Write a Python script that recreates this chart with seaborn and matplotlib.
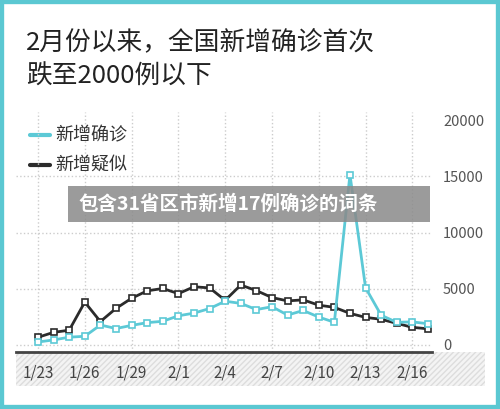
import matplotlib
matplotlib.use("Agg")
import matplotlib.pyplot as plt
import matplotlib.patches as mpatches
import seaborn as sns
import pandas as pd
import numpy as np

sns.set_style("white")
plt.rcParams['font.family'] = ['Noto Sans CJK SC', 'DejaVu Sans']

dates = ['1/23', '1/24', '1/25', '1/26', '1/27', '1/28', '1/29', '1/30', '1/31', '2/1',
         '2/2', '2/3', '2/4', '2/5', '2/6', '2/7', '2/8', '2/9', '2/10', '2/11',
         '2/12', '2/13', '2/14', '2/15', '2/16', '2/17']
confirmed = [259, 444, 688, 769, 1771, 1459, 1737, 1982, 2102, 2590, 2829, 3235, 3887,
             3694, 3143, 3399, 2656, 3062, 2478, 2015, 15152, 5090, 2641, 2009, 2048, 1886]
suspected = [680, 1118, 1309, 3806, 2077, 3248, 4148, 4812, 5019, 4562, 5173, 5072, 3971,
             5328, 4833, 4214, 3916, 4008, 3536, 3342, 2807, 2450, 2277, 1918, 1563, 1432]

df = pd.DataFrame({'i': np.arange(len(dates)), '新增确诊': confirmed, '新增疑似': suspected})
long = df.melt(id_vars='i', var_name='series', value_name='v')

W, H = 500, 409
fig = plt.figure(figsize=(5, 4.09), dpi=100)
fig.patch.set_facecolor('white')
ax = fig.add_axes([16 / W, 1 - 352 / H, (432 - 16) / W, (352 - 112) / H])
ax.set_zorder(2)

pal = {'新增确诊': '#5cc9d6', '新增疑似': '#2b2b2b'}
sns.lineplot(data=long, x='i', y='v', hue='series', hue_order=['新增疑似', '新增确诊'],
             palette=pal, ax=ax, linewidth=2, marker='s', markersize=5,
             markerfacecolor='white', markeredgewidth=1.2, legend=False)
for ln, s in zip(ax.lines, ['新增疑似', '新增确诊']):
    ln.set_markeredgecolor(pal[s])

ax.set_xlim(-1.41, 25.26)
ax.set_ylim(-630, 20720)
ax.set_xticks(range(0, 26, 3))
ax.set_xticklabels(dates[::3], color='#444444', fontsize=11)
ax.set_yticks([0, 5000, 10000, 15000, 20000])
ax.yaxis.tick_right()
ax.tick_params(axis='y', length=0, pad=8, labelcolor='#555555', labelsize=10.5)
ax.tick_params(axis='x', length=0, pad=9)
ax.set_xlabel('')
ax.set_ylabel('')
for s in ['top', 'left', 'right']:
    ax.spines[s].set_visible(False)
ax.spines['bottom'].set_color('#444444')
ax.spines['bottom'].set_linewidth(2)
ax.grid(axis='x', linestyle=':', color='#cccccc', linewidth=1)
for yv in [0, 5000, 10000, 15000]:
    ax.axhline(yv, linestyle=':', color='#cccccc', linewidth=1, zorder=0)
ax.set_facecolor('none')

# hatched band under the axis
band = mpatches.Rectangle((16 / W, 1 - 386 / H), (485 - 16) / W, 34 / H,
                          transform=fig.transFigure, facecolor='#f4f4f4',
                          edgecolor='#dddddd', hatch='//////', linewidth=0, zorder=-1)
fig.patches.append(band)

# legend
for name, yy in [('新增确诊', 135), ('新增疑似', 165)]:
    fig.add_artist(plt.Line2D([30 / W, 50 / W], [1 - yy / H] * 2, color=pal[name],
                              linewidth=3, transform=fig.transFigure))
    fig.text(55 / W, 1 - yy / H, name, fontsize=13, color='#333333', va='center')

fig.text(26 / W, 1 - 60 / H, '2月份以来，全国新增确诊首次\n跌至2000例以下', fontsize=18.5,
         color='#222222', va='center', ha='left', linespacing=1.35, fontweight='medium')

# watermark
wm = mpatches.Rectangle((68 / W, 1 - 222 / H), (430 - 68) / W, 36 / H,
                        transform=fig.transFigure, facecolor='#8a8a8a', alpha=0.85,
                        edgecolor='none', zorder=4)
fig.patches.append(wm)
fig.text(78 / W, 1 - 204 / H, '包含31省区市新增17例确诊的词条', fontsize=14, fontweight='bold',
         color='white', va='center', ha='left', zorder=5)

# border
fig.patches.append(mpatches.Rectangle((0, 0), 1, 1, transform=fig.transFigure, fill=False,
                                      edgecolor='#5bc8d2', linewidth=6, zorder=6))

fig.savefig('out.png', dpi=100)
